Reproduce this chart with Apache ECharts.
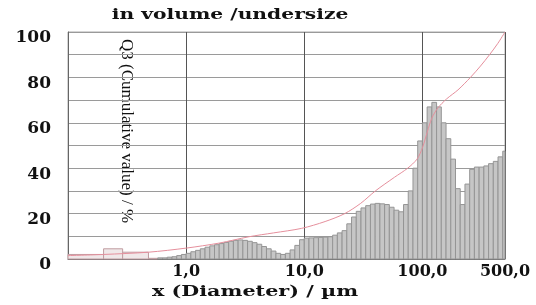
<!DOCTYPE html>
<html>
<head>
<meta charset="utf-8">
<script src="https://cdn.jsdelivr.net/npm/echarts@6/dist/echarts.min.js"></script>
<style>
	html, body { margin: 0; padding: 0; background: #fff; }
	#chart { width: 536px; height: 305px; }
</style>
</head>
<body>
<div id="chart"></div>
<script>
// bin edges in µm (lower edges, last value closes the last bin)
var binEdges = [0.575, 0.631, 0.692, 0.759, 0.832, 0.912, 1.0, 1.096, 1.202, 1.318,
	1.445, 1.585, 1.738, 1.905, 2.089, 2.291, 2.512, 2.754, 3.020, 3.311,
	3.631, 3.981, 4.365, 4.786, 5.248, 5.754, 6.310, 6.918, 7.586, 8.318,
	9.120, 10.0, 10.96, 12.02, 13.18, 14.45, 15.85, 17.38, 19.05, 20.89,
	22.91, 25.12, 27.54, 30.20, 33.11, 36.31, 39.81, 43.65, 47.86, 52.48,
	57.54, 63.10, 69.18, 75.86, 83.18, 91.20, 100.0, 109.6, 120.2, 131.8,
	144.5, 158.5, 173.8, 190.5, 208.9, 229.1, 251.2, 275.4, 302.0, 331.1,
	363.1, 398.1, 436.5, 478.6, 500.0];
// frequency per bin (%)
var q3Dens = [0.5, 0.5, 0.8, 1.0, 1.5, 2.0, 2.5, 3.2, 3.8, 4.5,
	5.2, 5.8, 6.3, 6.8, 7.3, 7.8, 8.2, 8.4, 8.2, 7.8,
	7.2, 6.5, 5.5, 4.5, 3.5, 2.5, 2.0, 2.5, 4.0, 6.0,
	8.5, 9.2, 9.3, 9.4, 9.5, 9.6, 9.8, 10.5, 11.5, 12.5,
	15.5, 18.5, 21.0, 22.5, 23.5, 24.2, 24.5, 24.3, 24.0, 22.8,
	21.5, 20.8, 24.0, 30.0, 40.0, 52.0, 60.0, 67.0, 69.0, 67.0,
	60.0, 53.0, 44.0, 31.0, 24.0, 33.0, 39.5, 40.5, 40.5, 41.0,
	42.0, 43.0, 45.0, 47.5];
// coarse bins at the fine end
var coarseEdges = [0.1, 0.2, 0.29, 0.48, 0.575];
var coarseDens = [2.0, 4.5, 3.0, 0.3];
// cumulative curve Q3 (%)
var cumSize = [0.1, 0.2, 0.48, 1.0, 1.9, 3.4, 5.5, 9.5, 15, 22, 30, 40, 58, 75, 90, 100,
	110, 120, 135, 160, 200, 255, 310, 370, 435, 500];
var cumVal = [1.5, 2.0, 3.0, 4.8, 7.0, 9.8, 11.5, 13.5, 16.5, 20, 24.5, 30, 36, 40, 44, 49,
	56, 62, 66.5, 70.5, 74.5, 80, 85, 90, 95, 100];
var yTicks = [0, 20, 40, 60, 80, 100];

function toBins(edges, vals){
	var out = [];
	for(var i=0; i<vals.length; i++){
		out.push([edges[i], edges[i+1], vals[i]]);
	}
	return out;
}

function binRender(fill, stroke){
	return function(params, api){
		var p0 = api.coord([api.value(0), api.value(2)]);
		var p1 = api.coord([api.value(1), 0]);
		return {
			type: 'rect',
			shape: {x: p0[0], y: p0[1], width: p1[0]-p0[0], height: p1[1]-p0[1]},
			style: {fill: fill, stroke: stroke, lineWidth: 1}
		};
	};
}

var serif = '"DejaVu Serif", serif';
var myChart = echarts.init(document.getElementById('chart'));
myChart.setOption({
	backgroundColor: '#fff',
	animation: false,
	grid: {left: 68, right: 31, top: 32, bottom: 46, show: true, borderColor: '#aaa', borderWidth: 1},
	xAxis: {
		type: 'log',
		logBase: 10,
		min: 0.1,
		max: 500,
		axisLine: {show: true, lineStyle: {color: '#666'}},
		axisTick: {show: false},
		splitLine: {show: true, lineStyle: {color: '#555', width: 1}},
		axisLabel: {
			margin: 5,
			fontFamily: serif,
			fontWeight: 'bold',
			fontSize: 16,
			color: '#111',
			formatter: function(v){
				if(v < 0.5) return '';
				return v.toFixed(1).replace('.', ',');
			}
		}
	},
	yAxis: {
		type: 'value',
		min: 0,
		max: 100,
		interval: 10,
		axisLine: {show: true, lineStyle: {color: '#666'}},
		axisTick: {show: false},
		splitLine: {show: true, lineStyle: {color: '#9a9a9a', width: 1}},
		axisLabel: {
			margin: 17,
			verticalAlign: 'top',
			lineHeight: 12,
			fontFamily: serif,
			fontWeight: 'bold',
			fontSize: 17,
			color: '#111',
			formatter: function(v){
				return yTicks.indexOf(v) >= 0 ? String(v) : '';
			}
		}
	},
	graphic: [{
		// title, stretched like the source image
		type: 'text',
		x: 230,
		y: 15,
		scaleX: 1.35,
		style: {
			text: 'in volume /undersize',
			fontFamily: serif,
			fontWeight: 'bold',
			fontSize: 15,
			fill: '#111',
			align: 'center',
			verticalAlign: 'middle'
		}
	}, {
		type: 'text',
		x: 255,
		y: 292,
		scaleX: 1.38,
		style: {
			text: 'x (Diameter) / µm',
			fontFamily: serif,
			fontWeight: 'bold',
			fontSize: 15,
			fill: '#111',
			align: 'center',
			verticalAlign: 'middle'
		}
	}, {
		type: 'text',
		x: 126,
		y: 131,
		rotation: -Math.PI/2,
		style: {
			text: 'Q3 (Cumulative value) / %',
			fontFamily: '"Liberation Serif", serif',
			fontSize: 17,
			fill: '#111',
			align: 'center',
			verticalAlign: 'middle'
		}
	}],
	series: [{
		type: 'custom',
		renderItem: binRender('#f0e8e9', '#c09ca1'),
		encode: {x: [0, 1], y: 2},
		data: toBins(coarseEdges, coarseDens),
		z: 2
	}, {
		type: 'custom',
		renderItem: binRender('#c6c6c6', '#959595'),
		encode: {x: [0, 1], y: 2},
		data: toBins(binEdges, q3Dens),
		z: 2
	}, {
		type: 'line',
		data: cumSize.map(function(s, i){ return [s, cumVal[i]]; }),
		smooth: 0.3,
		showSymbol: false,
		lineStyle: {color: '#e58f9c', width: 1},
		z: 3
	}]
});
</script>
</body>
</html>
